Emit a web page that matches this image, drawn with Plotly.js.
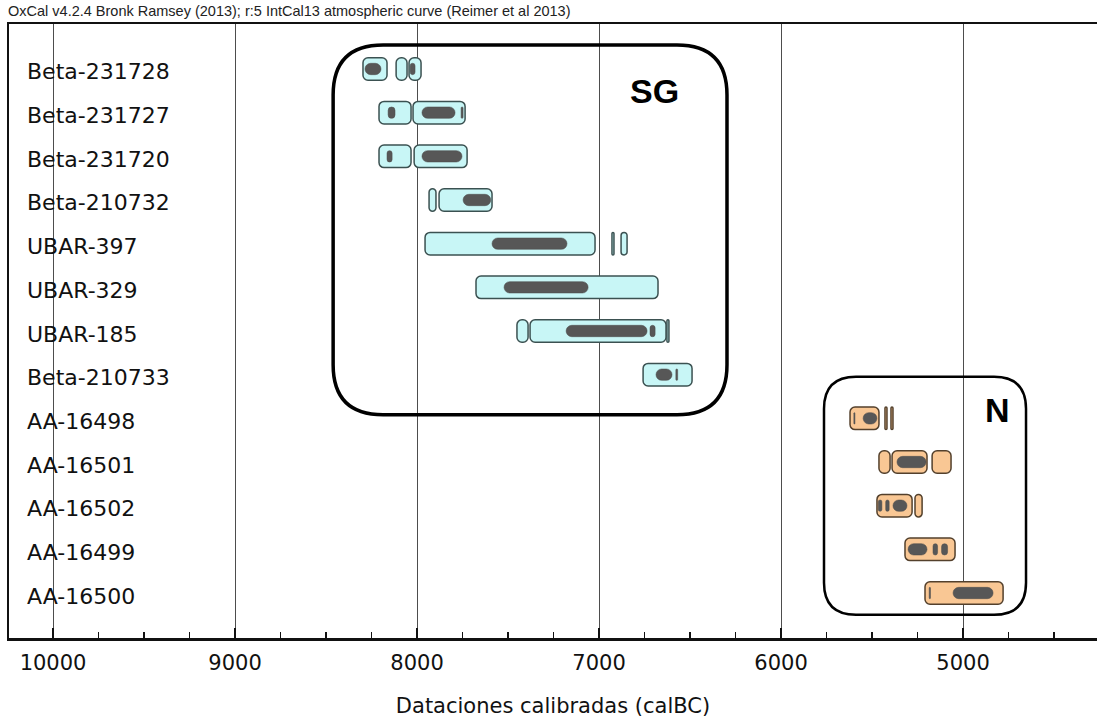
<!DOCTYPE html>
<html>
<head>
<meta charset="utf-8">
<script src="https://cdn.plot.ly/plotly-3.0.1.min.js"></script>
<style>
  html, body { margin: 0; padding: 0; background: #fff; }
  #chart { width: 1097px; height: 718px; }
</style>
</head>
<body>
<div id="chart"></div>
<script>
// Radiocarbon samples, top to bottom
const samples = [
  'Beta-231728', 'Beta-231727', 'Beta-231720', 'Beta-210732',
  'UBAR-397', 'UBAR-329', 'UBAR-185', 'Beta-210733',
  'AA-16498', 'AA-16501', 'AA-16502', 'AA-16499', 'AA-16500'
];

// Site group of each sample
const groupOf = ['SG', 'SG', 'SG', 'SG', 'SG', 'SG', 'SG', 'SG', 'N', 'N', 'N', 'N', 'N'];

// 95.4% calibrated ranges (cal BC), [from, to] per segment
const range95 = [
  [[8297, 8165], [8115, 8055], [8044, 7978]],
  [[8209, 8033], [8022, 7736]],
  [[8209, 8033], [8016, 7725]],
  [[7934, 7896], [7879, 7588]],
  [[7956, 7022], [6929, 6918], [6879, 6846]],
  [[7676, 6676]],
  [[7451, 7390], [7379, 6632], [6627, 6616]],
  [[6758, 6489]],
  [[5621, 5462], [5429, 5418], [5396, 5385]],
  [[5462, 5401], [5390, 5198], [5170, 5066]],
  [[5473, 5280], [5264, 5225]],
  [[5319, 5044]],
  [[5209, 4780]]
];

// 68.2% calibrated ranges (cal BC)
const range68 = [
  [[8286, 8198], [8038, 8011]],
  [[8159, 8121], [7973, 7791], [7758, 7747]],
  [[8165, 8137], [7973, 7753]],
  [[7747, 7595]],
  [[7588, 7176]],
  [[7522, 7060]],
  [[7181, 6736], [6720, 6692]],
  [[6687, 6599], [6578, 6568]],
  [[5600, 5594], [5549, 5473]],
  [[5363, 5203]],
  [[5466, 5446], [5425, 5406], [5385, 5308]],
  [[5302, 5198], [5165, 5140], [5118, 5085]],
  [[5186, 5179], [5055, 4835]]
];

// Group outlines and their labels
const groups = [
  { name: 'SG', from: 8461, to: 6297, labelYear: 6698, labelRow: 0.5, padTop: 0.55, padBottom: 0.92,
    radius: 50, edgeWidth: 3.5, fill: '#c8f6f6', edge: '#3b5151' },
  { name: 'N', from: 5764, to: 4654, labelYear: 4813, labelRow: 7.81, padTop: 0.95, padBottom: 0.5,
    radius: 32, edgeWidth: 2.5, fill: '#f9c794', edge: '#53402c' }
];

// Page geometry
const W = 1097, H = 718;
const M = { l: 9, r: 0, t: 24, b: 80 };
const X_RANGE = [10242, 4264];
const Y_RANGE = [samples.length - 1 + 1.03, -1.03];
const PX_PER_YEAR = (W - M.l - M.r) / Math.abs(X_RANGE[0] - X_RANGE[1]);
const PX_PER_ROW = (H - M.t - M.b) / Math.abs(Y_RANGE[0] - Y_RANGE[1]);

const groupStyle = {};
groups.forEach(g => { groupStyle[g.name] = g; });

function segmentTrace(ranges, thickness, colorFor, lineFor, radius) {
  const y = [], base = [], len = [], colors = [], lines = [];
  ranges.forEach((segs, row) => {
    segs.forEach(([a, b]) => {
      y.push(row); base.push(a); len.push(b - a);
      colors.push(colorFor(row)); lines.push(lineFor(row));
    });
  });
  return {
    type: 'bar', orientation: 'h', y: y, base: base, x: len,
    width: thickness,
    marker: { color: colors, line: { color: lines, width: 1.5 }, cornerradius: radius },
    hoverinfo: 'skip', showlegend: false
  };
}

const light = segmentTrace(range95, 0.515,
  r => groupStyle[groupOf[r]].fill, r => groupStyle[groupOf[r]].edge, 5);
const dark = segmentTrace(range68, 0.26, () => '#575757', () => '#4a4a4a', '50%');
dark.marker.line.width = 0.5;

function roundedPath(x0, x1, y0, y1, rPx) {
  const rx = rPx / PX_PER_YEAR * Math.sign(x1 - x0);
  const ry = rPx / PX_PER_ROW * Math.sign(y1 - y0);
  return `M ${x0 + rx},${y0} L ${x1 - rx},${y0} Q ${x1},${y0} ${x1},${y0 + ry} ` +
         `L ${x1},${y1 - ry} Q ${x1},${y1} ${x1 - rx},${y1} L ${x0 + rx},${y1} ` +
         `Q ${x0},${y1} ${x0},${y1 - ry} L ${x0},${y0 + ry} Q ${x0},${y0} ${x0 + rx},${y0} Z`;
}

const shapes = groups.map(g => {
  const rows = groupOf.map((n, i) => n === g.name ? i : null).filter(i => i !== null);
  const top = Math.min(...rows) - g.padTop;
  const bottom = Math.max(...rows) + g.padBottom;
  return {
    type: 'path', xref: 'x', yref: 'y', layer: 'above',
    path: roundedPath(g.from, g.to, top, bottom, g.radius),
    line: { color: '#000', width: g.edgeWidth }
  };
});

const annotations = samples.map((s, i) => ({
  text: s, xref: 'paper', x: 16 / (W - M.l - M.r), xanchor: 'left',
  yref: 'y', y: i, yanchor: 'middle', yshift: -3, showarrow: false,
  font: { family: 'DejaVu Sans', size: 22, color: '#111' }
})).concat(groups.map(g => ({
  text: '<b>' + g.name + '</b>', xref: 'x', x: g.labelYear, yref: 'y', y: g.labelRow,
  xanchor: 'center', yanchor: 'middle', showarrow: false,
  font: { family: 'Liberation Sans', size: 34, color: '#000' }
})));

const layout = {
  width: W, height: H, margin: M,
  paper_bgcolor: '#fff', plot_bgcolor: '#fff',
  barmode: 'overlay', showlegend: false,
  title: {
    text: 'OxCal v4.2.4 Bronk Ramsey (2013); r:5 IntCal13 atmospheric curve (Reimer et al 2013)',
    xref: 'container', yref: 'container', x: 8 / W, xanchor: 'left', y: 1 - 11 / H, yanchor: 'middle',
    font: { family: 'Liberation Sans', size: 14.5, color: '#222' }
  },
  xaxis: {
    range: X_RANGE, tick0: 0, dtick: 1000, tickformat: 'd',
    showgrid: true, gridcolor: '#4d4d4d', gridwidth: 1, zeroline: false,
    showline: true, linecolor: '#111', linewidth: 2.5, mirror: true,
    ticks: 'inside', ticklen: 10, tickwidth: 1.5, tickcolor: '#111',
    minor: { dtick: 250, ticks: 'inside', ticklen: 6, tickwidth: 1.2, tickcolor: '#111', showgrid: false },
    ticklabelstandoff: 4,
    tickfont: { family: 'DejaVu Sans', size: 21, color: '#111' },
    title: { text: 'Dataciones calibradas (calBC)', standoff: 26,
             font: { family: 'DejaVu Sans', size: 21, color: '#111' } }
  },
  yaxis: {
    range: Y_RANGE, showgrid: false, zeroline: false, showticklabels: false,
    showline: true, linecolor: '#111', linewidth: 2.5, ticks: ''
  },
  shapes: shapes,
  annotations: annotations
};

Plotly.newPlot('chart', [light, dark], layout, { displayModeBar: false, staticPlot: true });
</script>
</body>
</html>
